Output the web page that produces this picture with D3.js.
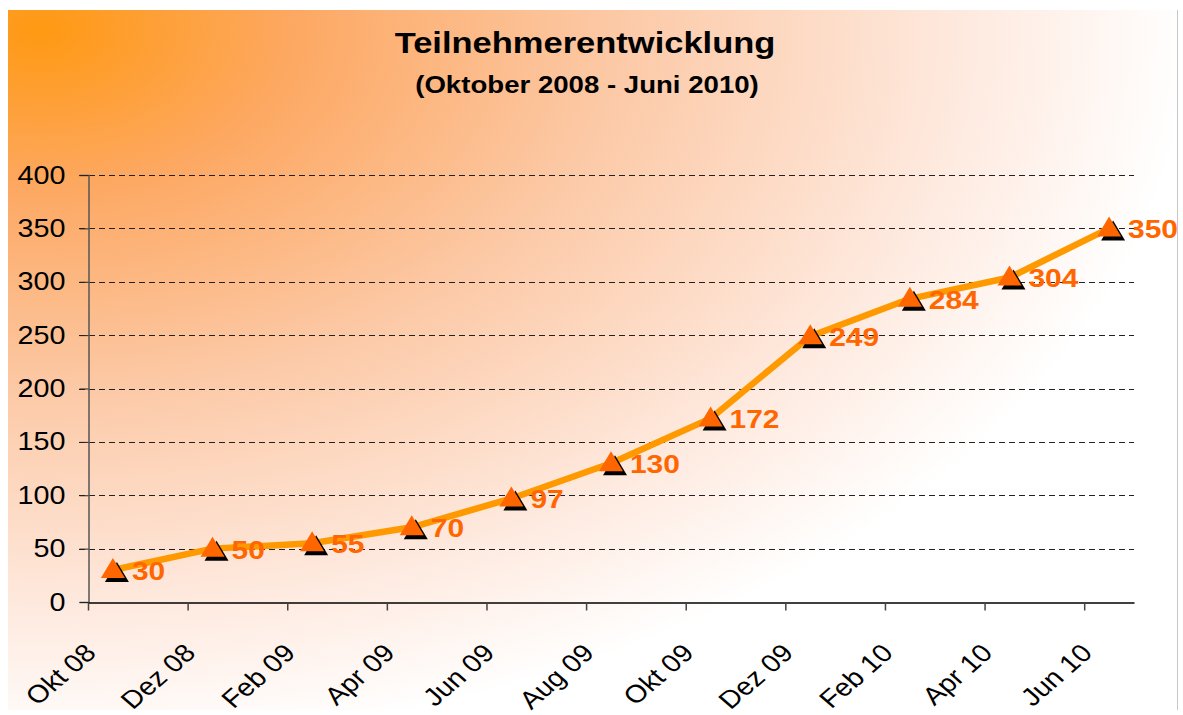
<!DOCTYPE html>
<html>
<head>
<meta charset="utf-8">
<script src="https://cdn.jsdelivr.net/npm/d3@7"></script>
<style>
  body { margin: 0; background: #fff; }
  svg { display: block; font-family: "Liberation Sans", Arial, sans-serif; }
</style>
</head>
<body>
<svg id="chart" width="1183" height="715"></svg>
<script>
// chart data
var monthLabels = ["Okt 08", "Dez 08", "Feb 09", "Apr 09", "Jun 09", "Aug 09",
                   "Okt 09", "Dez 09", "Feb 10", "Apr 10", "Jun 10"];
var participants = [30, 50, 55, 70, 97, 130, 172, 249, 284, 304, 350];
var yTicks = [0, 50, 100, 150, 200, 250, 300, 350, 400];
var monthsTotal = 21; // Okt 08 .. Jun 10, one slot per month

var svg = d3.select("#chart");
var margin = {top: 175, right: 49, bottom: 113, left: 88};
var W = +svg.attr("width"), H = +svg.attr("height");
var sx = 1.15; // the original picture is a bit wider than tall, text stretched horizontally

// background gradient (orange corner fading to white)
var defs = svg.append("defs");
var grad = defs.append("radialGradient")
    .attr("id", "bg")
    .attr("gradientUnits", "userSpaceOnUse")
    .attr("cx", 0).attr("cy", 0).attr("r", 1)
    .attr("gradientTransform", "translate(40,30) scale(1150,720)");
[[0, "#ff9912"], [0.22, "#fda862"], [0.5, "#fcc9a6"], [0.8, "#fee9de"], [1, "#ffffff"]]
  .forEach(function(s) {
    grad.append("stop").attr("offset", s[0]).attr("stop-color", s[1]);
  });

svg.append("rect")
    .attr("x", 8).attr("y", 10)
    .attr("width", 1169).attr("height", 700)
    .attr("fill", "url(#bg)");
svg.append("line")
    .attr("x1", 1177.5).attr("x2", 1177.5).attr("y1", 10).attr("y2", 710)
    .attr("stroke", "#c8c8c8");

var x = d3.scaleLinear()
    .domain([0, monthsTotal])
    .range([margin.left, W - margin.right]);
var y = d3.scaleLinear()
    .domain([0, 400])
    .range([H - margin.bottom, margin.top]);

// point i sits in the middle of month slot 2*i
function px(i) { return x(2 * i + 0.5); }

// text placed at (tx,ty), stretched horizontally
function stretchedText(parent, tx, ty) {
  return parent.append("g")
      .attr("transform", "translate(" + tx + "," + ty + ") scale(" + sx + ",1)")
    .append("text");
}

// gridlines
svg.append("g").selectAll("line")
    .data(yTicks.filter(function(d) { return d > 0; }))
    .enter().append("line")
    .attr("x1", margin.left - 9).attr("x2", W - margin.right)
    .attr("y1", function(d) { return Math.round(y(d)) + 0.5; })
    .attr("y2", function(d) { return Math.round(y(d)) + 0.5; })
    .attr("stroke", "#222")
    .attr("stroke-dasharray", "6,4");

// y axis
var yAxis = svg.append("g")
    .attr("transform", "translate(" + (margin.left + 0.5) + ",0)")
    .call(d3.axisLeft(y).tickValues(yTicks).tickSize(9).tickPadding(14));
yAxis.select(".domain").attr("stroke", "#555").attr("stroke-width", 1.5);
yAxis.selectAll(".tick line").attr("stroke", "#222");
yAxis.selectAll("text")
    .attr("font-size", 25)
    .attr("fill", "#000")
    .attr("font-family", "Liberation Sans, Arial, sans-serif")
    .attr("x", -23 / sx)
    .attr("transform", "scale(" + sx + ",1)");

// x axis
var xAxis = svg.append("g")
    .attr("transform", "translate(0," + (H - margin.bottom + 0.5) + ")")
    .call(d3.axisBottom(x)
      .tickValues(d3.range(0, monthsTotal, 2))
      .tickSize(8)
      .tickSizeOuter(0)
      .tickFormat(function(d) { return monthLabels[d / 2]; }));
xAxis.select(".domain").attr("stroke", "#000").attr("stroke-width", 1.5);
xAxis.selectAll(".tick line").attr("stroke", "#444").attr("stroke-width", 1.5);
xAxis.selectAll("text")
    .attr("font-size", 25)
    .attr("fill", "#000")
    .attr("font-family", "Liberation Sans, Arial, sans-serif")
    .attr("text-anchor", "end")
    .attr("dy", 0)
    .attr("y", 0)
    .attr("transform", "translate(9,52) scale(" + sx + ",1) rotate(-45)");

// line
var line = d3.line()
    .x(function(d, i) { return px(i); })
    .y(function(d) { return y(d); });
svg.append("path")
    .datum(participants)
    .attr("d", line)
    .attr("fill", "none")
    .attr("stroke", "#ff9900")
    .attr("stroke-width", 6.5)
    .attr("stroke-linejoin", "round");

// triangle markers with black shadow
var tri = "M0,-12 L12,8 L-12,8 Z";
var markers = svg.append("g").selectAll("g")
    .data(participants)
    .enter().append("g")
    .attr("transform", function(d, i) { return "translate(" + px(i) + "," + y(d) + ")"; });
markers.append("path")
    .attr("d", tri)
    .attr("transform", "translate(4,4)")
    .attr("fill", "#000");
markers.append("path")
    .attr("d", tri)
    .attr("fill", "#ff6600");

// value labels
var labels = svg.append("g");
participants.forEach(function(d, i) {
  stretchedText(labels, px(i) + 19, y(d) + 10)
      .attr("font-size", 26)
      .attr("font-weight", "bold")
      .attr("fill", "#ff6600")
      .text(d);
});

// titles
stretchedText(svg, 585, 53)
    .attr("text-anchor", "middle")
    .attr("font-size", 30)
    .attr("font-weight", "bold")
    .text("Teilnehmerentwicklung");
stretchedText(svg, 587, 93)
    .attr("text-anchor", "middle")
    .attr("font-size", 24)
    .attr("font-weight", "bold")
    .text("(Oktober 2008 - Juni 2010)");
</script>
</body>
</html>
